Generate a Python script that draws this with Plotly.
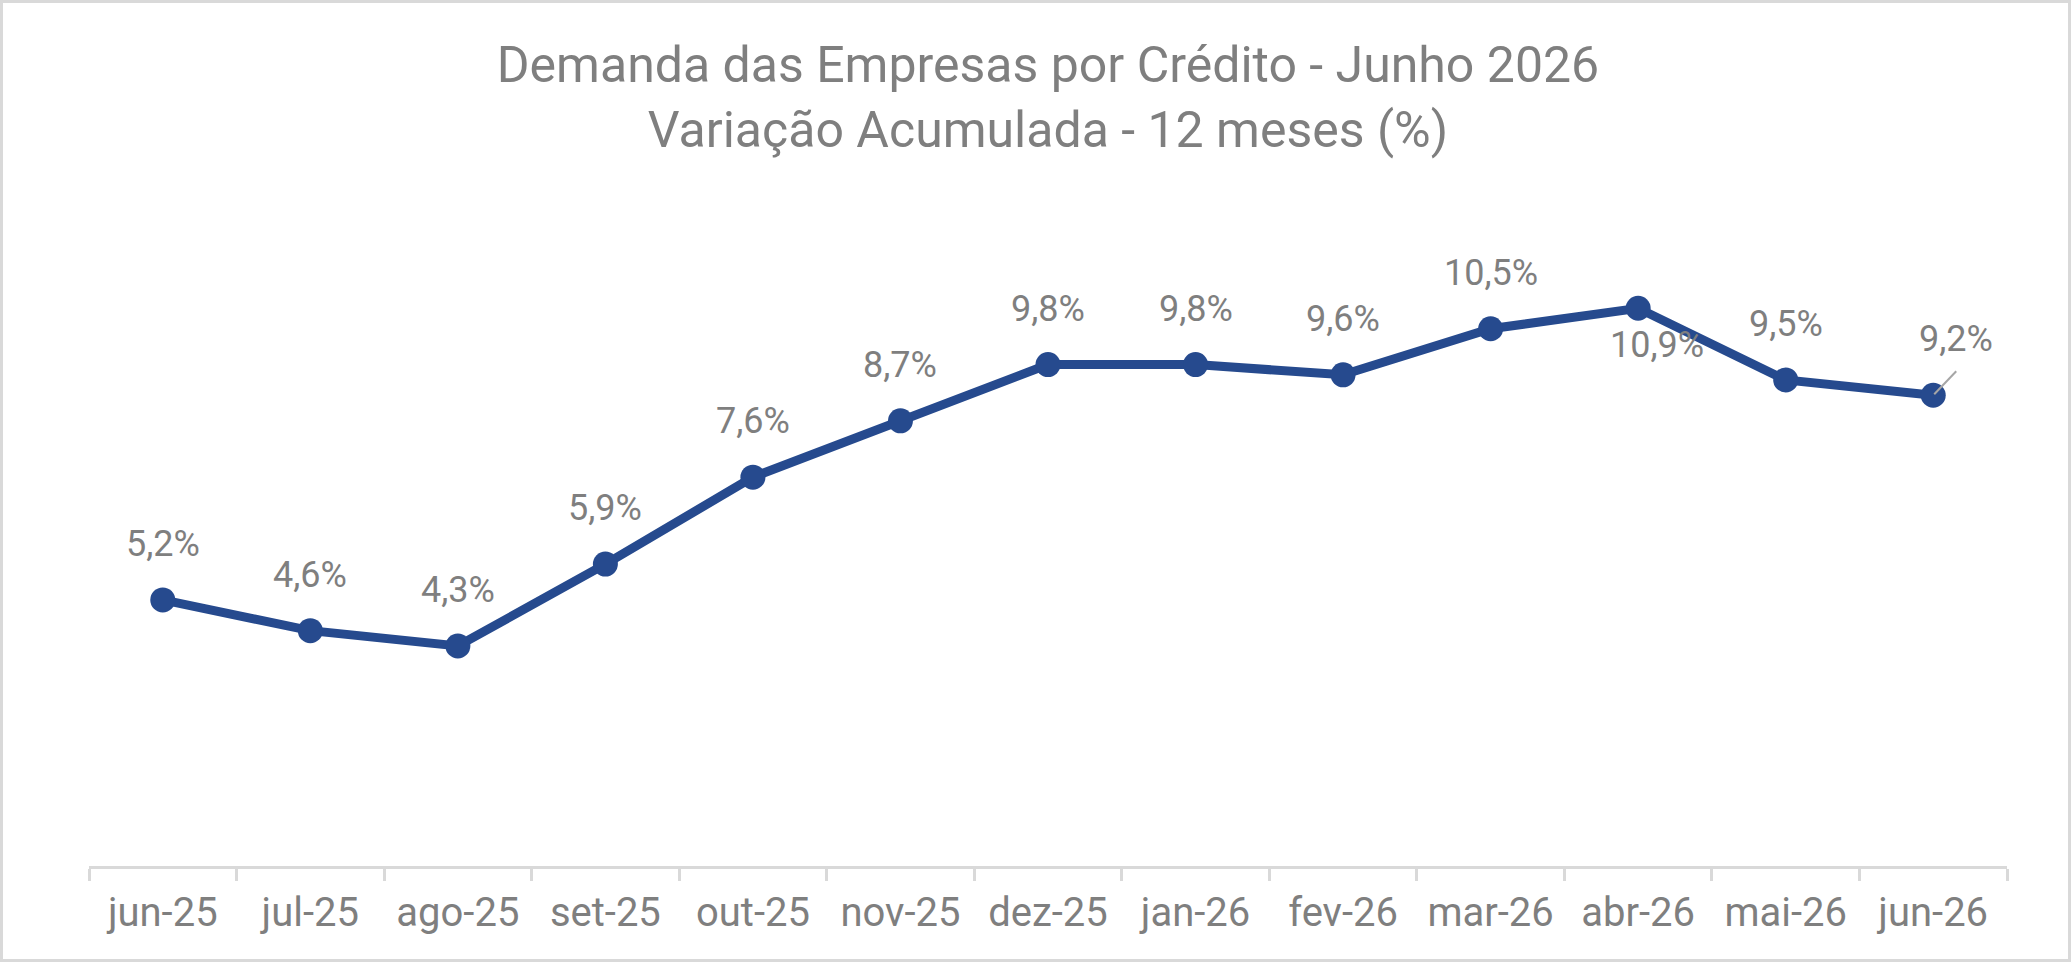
import plotly.graph_objects as go

months = ["jun-25", "jul-25", "ago-25", "set-25", "out-25", "nov-25", "dez-25",
          "jan-26", "fev-26", "mar-26", "abr-26", "mai-26", "jun-26"]
values = [5.2, 4.6, 4.3, 5.9, 7.6, 8.7, 9.8, 9.8, 9.6, 10.5, 10.9, 9.5, 9.2]
title_lines = ["Demanda das Empresas por Crédito - Junho 2026",
               "Variação Acumulada - 12 meses (%)"]

W, H = 2071, 962
L, R, T, B = 89, 64, 252, 96
PW, PH = W - L - R, H - T - B

LINE_COLOR = "#264a8e"
TEXT_COLOR = "#7f7f7f"
GRID_COLOR = "#d9d9d9"
FONT = "Roboto"

fig = go.Figure()
fig.add_trace(go.Scatter(
    x=months, y=values, mode="lines+markers",
    line=dict(color=LINE_COLOR, width=9),
    marker=dict(color=LINE_COLOR, size=25),
    hoverinfo="skip", showlegend=False,
))

# label offsets (pixels) — default above the point
special = {"abr-26": (19, -37), "jun-26": (23, 56)}
for m, v in zip(months, values):
    dx, dy = special.get(m, (0, 56))
    fig.add_annotation(
        x=m, y=v, xref="x", yref="y", showarrow=False,
        text=f"{v:.1f}%".replace(".", ","),
        xshift=dx, yshift=dy,
        font=dict(family=FONT, size=36, color=TEXT_COLOR),
    )

# leader line for last label
fig.add_shape(type="line", xref="x", yref="y",
              xsizemode="pixel", ysizemode="pixel",
              xanchor=months[-1], yanchor=values[-1],
              x0=1, x1=23, y0=1, y1=24,
              line=dict(color="#a6a6a6", width=2))

# outer border
fig.add_shape(type="rect", xref="paper", yref="paper",
              x0=(1.5 - L) / PW, x1=(W - 1.5 - L) / PW,
              y0=(T + PH - (H - 1.5)) / PH, y1=(T + PH - 1.5) / PH,
              line=dict(color=GRID_COLOR, width=3), layer="below")

fig.update_layout(
    width=W, height=H,
    margin=dict(l=L, r=R, t=T, b=B),
    paper_bgcolor="white", plot_bgcolor="white",
    title=dict(text="<br>".join(title_lines), x=0.5, xanchor="center",
               xref="paper", yref="container", y=1 - 82 / H, yanchor="middle",
               font=dict(family=FONT, size=50, color=TEXT_COLOR)),
    xaxis=dict(type="category", range=[-0.5, len(months) - 0.5],
               showline=True, linecolor=GRID_COLOR, linewidth=3,
               ticks="outside", tickson="boundaries", ticklen=12,
               tickwidth=3, tickcolor=GRID_COLOR, showgrid=False,
               tickfont=dict(family=FONT, size=40, color=TEXT_COLOR),
               ticklabelstandoff=9, fixedrange=True),
    yaxis=dict(range=[0, 12], visible=False, fixedrange=True),
)

fig.write_html("out.html", config={"displayModeBar": False},
               post_script="document.body.style.margin='0';document.body.style.overflow='hidden';")
